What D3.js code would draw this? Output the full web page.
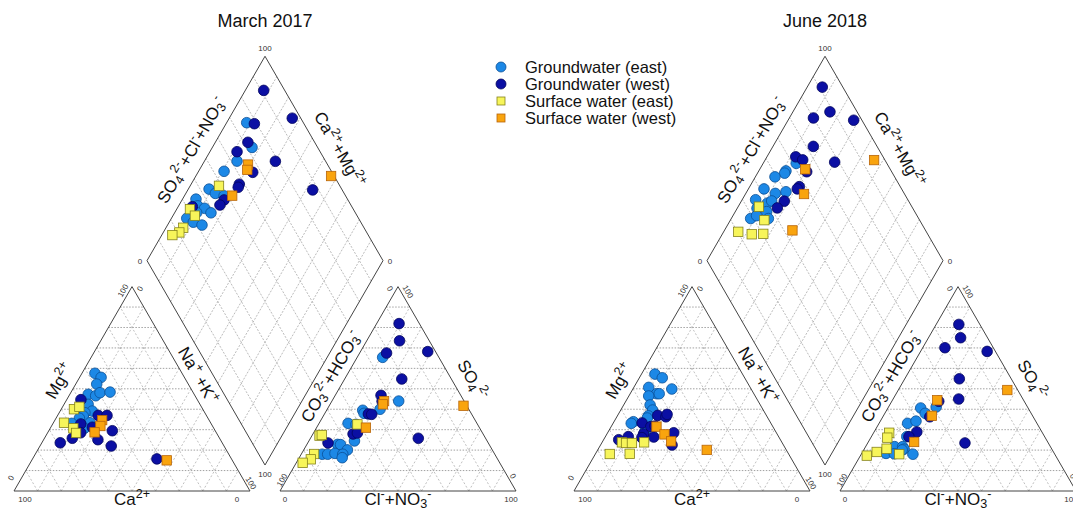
<!DOCTYPE html>
<html>
<head>
<meta charset="utf-8">
<script src="https://cdn.jsdelivr.net/npm/d3@7"></script>
<style>
  body { margin: 0; background: #fff; }
  svg { font-family: "Liberation Sans", Arial, sans-serif; }
</style>
</head>
<body>
<script>
// Piper diagrams, two sampling campaigns
// cation pairs: [Na+K %, Mg %]   anion pairs: [Cl+NO3 %, SO4 %]
// diamond pairs: [SO4+Cl+NO3 %, Ca+Mg %]

var titles = ["March 2017", "June 2018"];
var groups = ["Groundwater (east)", "Groundwater (west)", "Surface water (east)", "Surface water (west)"];

// ---- March 2017
var gwEastCat17 = [[5.5,57.6],[9.1,55.6],[8.9,52.3],[7.8,47.3],[11.3,46.6],[12.4,48.1],[16.5,48.4],[10.2,42.4],[13.6,39.1],[10.9,38.3],[11.0,36.7],[9.9,35.6],[7.9,33.1],[15.5,33.4],[14.5,30.7]];
var gwWestCat17 = [[6.0,44.7],[17.2,37.0],[20.9,37.0],[11.9,32.8],[17.6,31.2],[14.0,28.5],[26.9,29.5],[7.8,23.6],[11.8,25.8],[23.0,25.1],[30.2,22.0],[52.7,15.7]];
var swEastCat17 = [[5.4,40.0],[7.1,41.2],[4.5,33.4],[9.8,30.7],[12.1,28.4]];
var swWestCat17 = [[20.0,34.7],[20.7,31.8],[19.8,28.7],[57.2,15.0]];

var gwEastAn17 = [[10.8,65.4],[28.3,44.0],[22.4,40.0],[15.3,39.5],[16.6,38.0],[12.3,33.1],[15.9,32.6],[19.3,24.5],[13.0,22.8],[14.3,22.7],[18.5,20.1],[8.9,18.0],[11.2,18.0],[14.1,18.4],[17.6,18.0],[18.2,16.3]];
var gwWestAn17 = [[9.5,81.9],[13.9,73.5],[11.4,67.5],[28.5,68.2],[24.2,54.8],[19.4,46.8],[21.3,43.9],[18.6,37.7],[20.1,37.5],[17.0,27.9],[18.6,28.4],[8.6,23.5],[45.7,25.8]];
var swEastAn17 = [[16.5,32.6],[3.2,27.1],[4.0,27.4],[5.4,18.1],[5.3,15.5],[2.7,13.8]];
var swWestAn17 = [[22.1,44.0],[22.4,42.4],[20.9,31.0],[56.9,41.7]];

var gwEastDia17 = [[76.0,91.5],[72.2,83.2],[62.5,86.2],[54.5,89.2],[43.8,91.2],[45.4,87.5],[48.5,83.2],[35.8,94.3],[34.9,91.9],[37.2,88.4],[38.8,84.6],[32.8,90.7],[27.2,93.5],[29.0,89.8],[32.0,85.4]];
var gwWestDia17 = [[91.1,92.2],[96.4,73.3],[79.0,88.0],[71.7,86.2],[64.8,88.5],[78.7,69.9],[66.4,76.8],[57.8,79.6],[56.6,79.3],[47.5,82.2],[44.5,82.7],[87.5,47.1],[32.4,94.0]];
var swEastDia17 = [[48.8,87.8],[30.8,94.4],[31.3,90.7],[23.4,92.7],[20.6,93.2],[17.0,95.5]];
var swWestDia17 = [[66.3,80.7],[64.7,79.7],[52.0,79.8],[98.7,42.7]];

// ---- June 2018
var gwEastCat18 = [[5.7,57.2],[9.7,55.4],[6.3,50.7],[16.5,49.9],[11.2,47.6],[12.3,47.6],[8.4,46.5],[11.2,42.1],[13.5,39.6],[13.1,36.8],[13.2,35.7],[8.2,33.9],[7.7,33.1],[15.4,29.4]];
var gwWestCat18 = [[12.2,33.3],[17.0,37.0],[20.8,36.3],[20.7,37.5],[16.8,31.5],[18.4,31.8],[15.5,27.9],[15.7,26.1],[20.6,26.4],[9.7,26.6],[6.4,25.1],[28.0,28.5],[30.3,22.5]];
var swEastCat18 = [[8.4,23.8],[10.3,23.5],[12.8,23.5],[17.8,23.8],[6.1,18.1],[14.5,18.2]];
var swWestCat18 = [[19.2,31.5],[24.5,27.7],[29.0,24.3],[46.2,20.1]];

var gwEastAn18 = [[20.2,41.1],[13.9,40.6],[17.1,38.0],[12.1,33.1],[15.1,34.2],[15.0,26.6],[12.3,21.7],[15.7,21.7],[16.9,20.5],[10.3,18.4],[13.9,18.2],[21.9,18.0],[16.3,20.1]];
var gwWestAn18 = [[9.6,81.5],[13.6,75.0],[9.4,70.1],[28.2,68.3],[23.1,54.9],[27.8,45.0],[19.9,43.9],[19.9,36.3],[18.1,28.9],[15.9,26.6],[41.2,23.5]];
var swEastAn18 = [[6.6,28.5],[7.0,26.1],[9.4,20.7],[6.0,19.1],[2.7,17.3],[16.1,18.0]];
var swWestAn18 = [[19.0,44.4],[20.5,36.8],[19.4,24.0],[46.2,49.4]];

var gwEastDia18 = [[61.6,86.0],[55.4,88.5],[54.3,88.5],[49.3,91.7],[41.7,93.4],[45.4,87.5],[50.3,83.4],[35.5,94.3],[39.6,88.5],[42.0,87.2],[34.0,91.6],[37.3,86.7],[28.8,91.8],[36.3,84.3],[32.0,90.0]];
var gwWestDia18 = [[91.3,93.6],[88.5,84.3],[80.0,89.8],[96.5,72.2],[73.0,82.9],[63.0,87.8],[65.2,84.1],[78.2,70.0],[64.0,79.5],[57.2,79.0],[55.8,79.3],[47.3,81.8],[42.7,83.1]];
var swEastDia18 = [[35.2,91.2],[34.2,85.6],[20.3,93.8],[25.4,87.5],[30.4,82.7]];
var swWestDia18 = [[64.0,80.7],[57.4,75.2],[43.6,71.2],[95.4,53.8]];

var fills   = ["#1c88e6", "#0b0fa3", "#f7f55a", "#f9a40e"];
var strokes = ["#0b4f95", "#03055e", "#85821c", "#b8650a"];
var shapes  = ["circle", "circle", "square", "square"];

var panels = [
  { x0: 14,  title: titles[0],
    cat: [gwEastCat17, gwWestCat17, swEastCat17, swWestCat17],
    an:  [gwEastAn17, gwWestAn17, swEastAn17, swWestAn17],
    dia: [gwEastDia17, gwWestDia17, swEastDia17, swWestDia17] },
  { x0: 574, title: titles[1],
    cat: [gwEastCat18, gwWestCat18, swEastCat18, swWestCat18],
    an:  [gwEastAn18, gwWestAn18, swEastAn18, swWestAn18],
    dia: [gwEastDia18, gwWestDia18, swEastDia18, swWestDia18] }
];

var W = 1073, H = 511;
var L = 236, gap = 30, baseY = 491;
var sin60 = Math.sqrt(3) / 2;
var s = d3.scaleLinear().domain([0, 100]).range([0, L]);

var svg = d3.select("body").append("svg")
  .attr("width", W).attr("height", H);

// write text with sub/superscripts: parts = [[str, "n"|"sup"|"sub"]]
function rich(t, parts, size) {
  var cur = 0;
  parts.forEach(function (p) {
    var target = p[1] === "sup" ? -0.42 * size : (p[1] === "sub" ? 0.18 * size : 0);
    t.append("tspan")
      .attr("dy", target - cur)
      .style("font-size", (p[1] === "n" ? size : size * 0.74) + "px")
      .text(p[0]);
    cur = target;
  });
}

function label(g, x, y, rot, parts, size) {
  var t = g.append("text")
    .attr("transform", "translate(" + x + "," + y + ") rotate(" + rot + ")")
    .attr("text-anchor", "middle")
    .attr("y", size * 0.35)
    .style("font-size", size + "px")
    .attr("fill", "#111");
  rich(t, parts, size);
}

function tick(g, x, y, rot, txt) {
  g.append("text")
    .attr("transform", "translate(" + x + "," + y + ") rotate(" + rot + ")")
    .attr("text-anchor", "middle")
    .attr("dy", "0.35em")
    .style("font-size", "8px")
    .attr("fill", "#333")
    .text(txt);
}

function drawMarks(g, list, proj) {
  list.forEach(function (data, k) {
    var sel = g.append("g").selectAll(".m").data(data).enter();
    if (shapes[k] === "circle") {
      sel.append("circle")
        .attr("cx", function (d) { return proj(d)[0]; })
        .attr("cy", function (d) { return proj(d)[1]; })
        .attr("r", 5.3)
        .attr("fill", fills[k]).attr("stroke", strokes[k]).attr("stroke-width", 0.8);
    } else {
      sel.append("rect")
        .attr("x", function (d) { return proj(d)[0] - 4.7; })
        .attr("y", function (d) { return proj(d)[1] - 4.7; })
        .attr("width", 9.4).attr("height", 9.4)
        .attr("fill", fills[k]).attr("stroke", strokes[k]).attr("stroke-width", 0.8);
    }
  });
}

var ticks = d3.range(10, 100, 10);

panels.forEach(function (p) {
  var g = svg.append("g");
  var ax0 = p.x0 + L + gap;
  var dX = p.x0 + L + gap / 2, dY = baseY - gap * sin60;

  // projections
  var catP = function (d) { return [p.x0 + s(d[0]) + s(d[1]) / 2, baseY - s(d[1]) * sin60]; };
  var anP  = function (d) { return [ax0 + s(d[0]) + s(d[1]) / 2, baseY - s(d[1]) * sin60]; };
  var diaP = function (d) { return [dX + (s(d[0]) - s(d[1])) / 2, dY - (s(d[0]) + s(d[1])) * sin60]; };

  var line = function (a, b, dash, col) {
    g.append("line")
      .attr("x1", a[0]).attr("y1", a[1]).attr("x2", b[0]).attr("y2", b[1])
      .attr("stroke", col).attr("stroke-width", 0.8)
      .attr("stroke-dasharray", dash);
  };

  // triangle grids
  [catP, anP].forEach(function (P) {
    ticks.forEach(function (k) {
      line(P([0, k]), P([100 - k, k]), "1.5,1.5", "#8a8a8a");
      line(P([k, 0]), P([k, 100 - k]), "2,2", "#b0b0b0");
      line(P([100 - k, 0]), P([0, 100 - k]), "2,2", "#b0b0b0");
    });
  });
  // diamond grid
  ticks.forEach(function (k) {
    line(diaP([k, 0]), diaP([k, 100]), "2,1.5", "#aaaaaa");
    line(diaP([0, k]), diaP([100, k]), "2,1.5", "#aaaaaa");
  });

  // outlines
  var outline = function (pts) {
    g.append("path")
      .attr("d", d3.line()(pts) + "Z")
      .attr("fill", "none").attr("stroke", "#444").attr("stroke-width", 1);
  };
  outline([catP([0, 0]), catP([100, 0]), catP([0, 100])]);
  outline([anP([0, 0]), anP([100, 0]), anP([0, 100])]);
  outline([diaP([0, 0]), diaP([100, 0]), diaP([100, 100]), diaP([0, 100])]);

  // title
  g.append("text")
    .attr("x", dX).attr("y", 27)
    .attr("text-anchor", "middle")
    .style("font-size", "18px").attr("fill", "#111")
    .text(p.title);

  // tick labels, cation triangle
  var c0 = catP([0, 0]), c1 = catP([100, 0]), c2 = catP([0, 100]);
  tick(g, c0[0] + 11, c0[1] + 8, 0, "100");
  tick(g, c0[0] - 3, c0[1] - 13, -60, "0");
  tick(g, c1[0] - 13, c1[1] + 8, 0, "0");
  tick(g, c1[0] + 1, c1[1] - 8, 60, "100");
  tick(g, c2[0] - 9, c2[1] + 4, -60, "100");
  tick(g, c2[0] + 8, c2[1] + 2, -60, "0");
  // anion triangle
  var a0 = anP([0, 0]), a1 = anP([100, 0]), a2 = anP([0, 100]);
  tick(g, a0[0] + 5, a0[1] + 8, 0, "0");
  tick(g, a0[0] + 2, a0[1] - 11, -60, "100");
  tick(g, a1[0] - 5, a1[1] + 8, 0, "100");
  tick(g, a1[0] - 3, a1[1] - 15, 60, "0");
  tick(g, a2[0] - 8, a2[1] + 2, 60, "0");
  tick(g, a2[0] + 10, a2[1] + 5, 60, "100");
  // diamond
  var dTop = diaP([100, 100]), dBot = diaP([0, 0]), dL = diaP([0, 100]), dR = diaP([100, 0]);
  tick(g, dTop[0], dTop[1] - 8, 0, "100");
  tick(g, dBot[0], dBot[1] + 9, 0, "100");
  tick(g, dL[0] - 7, dL[1] + 1, 0, "0");
  tick(g, dR[0] + 7, dR[1] + 1, 0, "0");

  // axis titles
  var fs = 17;
  var mid = function (a, b, off, nx, ny) {
    return [(a[0] + b[0]) / 2 + off * nx, (a[1] + b[1]) / 2 + off * ny];
  };
  var m;
  m = mid(c0, c2, 16, -sin60, -0.5);
  label(g, m[0], m[1], -60, [["Mg", "n"], ["2+", "sup"]], fs);
  m = mid(c2, c1, 13, sin60, -0.5);
  label(g, m[0] - 4, m[1] - 7, 60, [["Na", "n"], ["+", "sup"], [" +K", "n"], ["+", "sup"]], fs);
  label(g, (c0[0] + c1[0]) / 2, baseY + 8, 0, [["Ca", "n"], ["2+", "sup"]], fs);

  m = mid(a0, a2, 13, -sin60, -0.5);
  label(g, m[0] + 3, m[1] - 6, -60, [["CO", "n"], ["3", "sub"], ["2-", "sup"], ["+HCO", "n"], ["3", "sub"], ["-", "sup"]], fs);
  m = mid(a2, a1, 18, sin60, -0.5);
  label(g, m[0], m[1], 60, [["SO", "n"], ["4", "sub"], ["2-", "sup"]], fs);
  label(g, (a0[0] + a1[0]) / 2, baseY + 8, 0, [["Cl", "n"], ["-", "sup"], ["+NO", "n"], ["3", "sub"], ["-", "sup"]], fs);

  m = mid(dL, dTop, 17, -sin60, -0.5);
  label(g, m[0], m[1], -60, [["SO", "n"], ["4", "sub"], ["2-", "sup"], ["+Cl", "n"], ["-", "sup"], ["+NO", "n"], ["3", "sub"], ["-", "sup"]], fs);
  m = mid(dTop, dR, 18, sin60, -0.5);
  label(g, m[0], m[1], 60, [["Ca", "n"], ["2+", "sup"], ["+Mg", "n"], ["2+", "sup"]], fs);

  // samples
  drawMarks(g, p.cat, catP);
  drawMarks(g, p.an, anP);
  drawMarks(g, p.dia, diaP);
});

// legend
var leg = svg.append("g").attr("transform", "translate(501,67)");
var rowH = 17;
groups.forEach(function (name, k) {
  var y = k * rowH;
  if (shapes[k] === "circle") {
    leg.append("circle").attr("cx", 0).attr("cy", y).attr("r", 5)
      .attr("fill", fills[k]).attr("stroke", strokes[k]).attr("stroke-width", 0.8);
  } else {
    leg.append("rect").attr("x", -4).attr("y", y - 4).attr("width", 8).attr("height", 8)
      .attr("fill", fills[k]).attr("stroke", strokes[k]).attr("stroke-width", 0.8);
  }
  leg.append("text").attr("x", 24).attr("y", y + 6)
    .style("font-size", "16.5px").attr("fill", "#111")
    .text(name);
});
</script>
</body>
</html>
